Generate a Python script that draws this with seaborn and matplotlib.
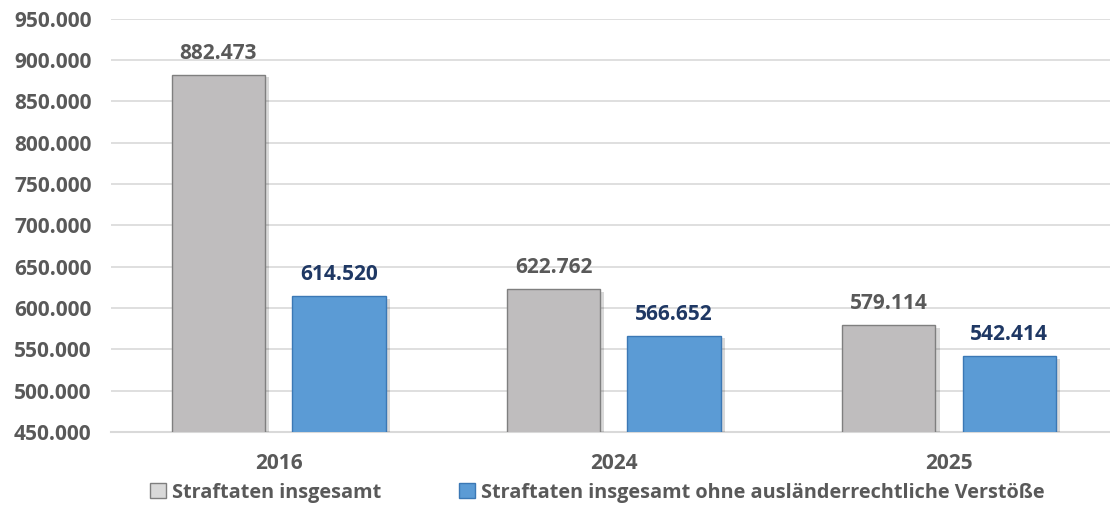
import pandas as pd
import numpy as np
import matplotlib.pyplot as plt
import matplotlib.patheffects as pe
from matplotlib.patches import Patch
import seaborn as sns

sns.set_style('white')
plt.rcParams['font.family'] = ['Open Sans', 'DejaVu Sans']
plt.rcParams['font.weight'] = 'bold'

# Daten
jahre = ['2016', '2024', '2025']
insgesamt = [882473, 622762, 579114]
ohne_auslaender = [614520, 566652, 542414]
serien = ['Straftaten insgesamt', 'Straftaten insgesamt ohne ausländerrechtliche Verstöße']
y_ticks = [450000, 500000, 550000, 600000, 650000, 700000, 750000, 800000, 850000, 900000, 950000]

df = pd.DataFrame({
    'Jahr': jahre * 2,
    'Wert': insgesamt + ohne_auslaender,
    'Serie': [serien[0]] * 3 + [serien[1]] * 3,
})

farben = ['#BFBDBE', '#5B9BD5']
kanten = ['#7F7F7F', '#3B78B5']
label_farben = ['#595959', '#1F3864']
text_grau = '#595959'
fs = 15

def de_fmt(v):
    return f'{int(v):,}'.replace(',', '.')

fig = plt.figure(figsize=(11.1, 5.09), dpi=100)
ax = fig.add_axes([0.1, 0.151, 0.906, 0.812])

sns.barplot(data=df, x='Jahr', y='Wert', hue='Serie', palette=farben, saturation=1,
            width=0.72, gap=0.225, ax=ax, legend=False, zorder=3)

for i, cont in enumerate(ax.containers):
    for bar in cont:
        bar.set_edgecolor(kanten[i])
        bar.set_linewidth(1.0)
        bar.set_path_effects([pe.SimplePatchShadow(offset=(3, -2), shadow_rgbFace='#000000', alpha=0.15),
                              pe.Normal()])
    ax.bar_label(cont, labels=[de_fmt(b.get_height()) for b in cont], padding=8,
                 fontsize=fs, fontweight='bold', color=label_farben[i])

ax.set_ylim(450000, 950000)
ax.set_yticks(y_ticks)
ax.set_yticklabels([de_fmt(t) for t in y_ticks], fontsize=fs, fontweight='bold', color=text_grau)
ax.tick_params(axis='x', labelsize=fs, colors=text_grau, pad=15, length=0)
ax.tick_params(axis='y', length=0, pad=14)
for lbl in ax.get_xticklabels():
    lbl.set_fontweight('bold')
ax.set_xlabel('')
ax.set_ylabel('')
ax.yaxis.grid(True, color='#D9D9D9', linewidth=1.2, zorder=0)
ax.set_axisbelow(True)
for s in ['top', 'right', 'left']:
    ax.spines[s].set_visible(False)
ax.spines['bottom'].set_color('#D9D9D9')
ax.spines['bottom'].set_linewidth(1.5)

handles = [Patch(facecolor='#D9D9D9', edgecolor='#7F7F7F', label=serien[0]),
           Patch(facecolor=farben[1], edgecolor=kanten[1], label=serien[1])]
fig.legend(handles=handles, loc='center', bbox_to_anchor=(0.538, 0.032), ncol=2, frameon=False,
           prop={'size': 14.3, 'weight': 'bold'}, labelcolor=text_grau,
           handlelength=0.8, handleheight=0.8, handletextpad=0.3, columnspacing=3.9)

fig.savefig('out.png', dpi=100)
